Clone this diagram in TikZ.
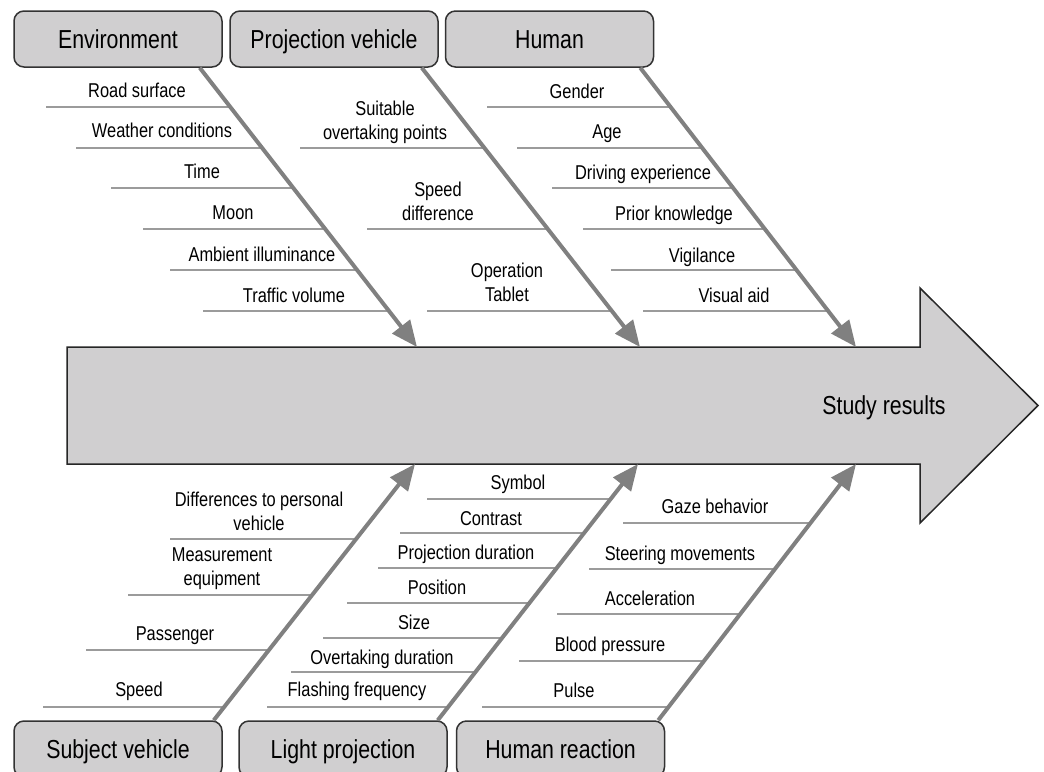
\documentclass[tikz,border=0pt]{standalone}
\usepackage{fontspec}
\setmainfont{Liberation Sans}[FakeStretch=0.82]
\usetikzlibrary{arrows.meta}
\definecolor{fishgray}{RGB}{208,207,208}
\definecolor{bonegray}{RGB}{128,128,128}
\definecolor{ribgray}{RGB}{155,155,155}

\begin{document}
\begin{tikzpicture}[x=0.5pt,y=-0.5pt,
	cause/.style={draw=black!80, line width=0.75pt, fill=fishgray, rounded corners=5pt, minimum width=104pt, minimum height=28pt, inner sep=0pt, text height=9.4pt, text depth=0pt, font=\fontsize{13}{15}\selectfont},
	rib/.style={draw=ribgray, line width=0.7pt},
	item/.style={font=\fontsize{10}{12}\selectfont, inner sep=0pt, text height=7.3pt, text depth=0pt},
	item2/.style={font=\fontsize{10}{12}\selectfont, align=center, inner sep=0pt, text depth=0pt},
	bone/.style={draw=bonegray, line width=2pt, -{Triangle[length=13pt,width=11pt]}}]
		\path[use as bounding box, clip] (0,0) rectangle (1044,771);
		
		% Result arrow
		\filldraw[fill=fishgray, draw=black!85, line width=0.75pt] (67,347) -- (920,347) -- (920,288) -- (1038,405.5) -- (920,523) -- (920,464) -- (67,464) -- cycle;
		\node[font=\fontsize{13}{15}\selectfont, text height=9.4pt, text depth=0pt, inner sep=0pt] (res) at (884,405) {Study results};
		\coordinate (envtip) at (417,347);
		\coordinate (pvtip) at (640,347);
		\coordinate (humtip) at (856,347);
		\coordinate (svtip) at (415,464);
		\coordinate (lptip) at (638,464);
		\coordinate (hrtip) at (856,464);
		
		% Cause boxes
		\node[cause] (env) at (118,39) {Environment};
		\node[cause] (pv) at (334,39) {Projection vehicle};
		\node[cause] (hum) at (549.5,39) {Human};
		\node[cause] (sv) at (118,749) {Subject vehicle};
		\node[cause] (lp) at (343,749) {Light projection};
		\node[cause] (hr) at (560.5,749) {Human reaction};
		
		% Environment
		\draw[rib] (46,107) -- (230,107);
		\node[item] (road) at (137,90) {Road surface};
		\draw[rib] (76,148) -- (262,148);
		\node[item] (weather) at (162,130) {Weather conditions};
		\draw[rib] (111,188) -- (294,188);
		\node[item] (time) at (202,171) {Time};
		\draw[rib] (143,229) -- (326,229);
		\node[item] (moon) at (233,212) {Moon};
		\draw[rib] (170,270) -- (358,270);
		\node[item] (ambient) at (262,254) {Ambient illuminance};
		\draw[rib] (203,311) -- (390,311);
		\node[item] (traffic) at (294,295) {Traffic volume};
		
		% Projection vehicle
		\draw[rib] (300,148) -- (484,148);
		\node[item2] (points) at (385,120) {Suitable\\overtaking points};
		\draw[rib] (367,229) -- (548,229);
		\node[item2] (speeddiff) at (438,201) {Speed\\difference};
		\draw[rib] (427,311) -- (612,311);
		\node[item2] (tablet) at (507,282) {Operation\\Tablet};
		
		% Human
		\draw[rib] (487,107) -- (670,107);
		\node[item] (gender) at (577,91) {Gender};
		\draw[rib] (517,148) -- (702,148);
		\node[item] (age) at (607,131) {Age};
		\draw[rib] (552,188) -- (734,188);
		\node[item] (driving) at (643,172) {Driving experience};
		\draw[rib] (583,229) -- (766,229);
		\node[item] (prior) at (674,213) {Prior knowledge};
		\draw[rib] (611,270) -- (798,270);
		\node[item] (vigil) at (702,255) {Vigilance};
		\draw[rib] (643,311) -- (830,311);
		\node[item] (visual) at (734,295) {Visual aid};
		
		% Subject vehicle
		\draw[rib] (170,539) -- (357,539);
		\node[item2] (diff) at (259,511) {Differences to personal\\vehicle};
		\draw[rib] (128,595) -- (312,595);
		\node[item2] (equip) at (222,567) {Measurement\\equipment};
		\draw[rib] (86,650) -- (269,650);
		\node[item] (passenger) at (175,633) {Passenger};
		\draw[rib] (43,707) -- (224,707);
		\node[item] (speed) at (139,689) {Speed};
		
		% Light projection
		\draw[rib] (427,499) -- (611,499);
		\node[item] (symbol) at (518,482) {Symbol};
		\draw[rib] (400,533) -- (585,533);
		\node[item] (contrast) at (491,518) {Contrast};
		\draw[rib] (378,568) -- (557,568);
		\node[item] (projdur) at (466,552) {Projection duration};
		\draw[rib] (347,603) -- (530,603);
		\node[item] (position) at (437,587) {Position};
		\draw[rib] (323,638) -- (502,638);
		\node[item] (size) at (414,622) {Size};
		\draw[rib] (291,672) -- (476,672);
		\node[item] (overdur) at (382,657) {Overtaking duration};
		\draw[rib] (267,707) -- (448,707);
		\node[item] (flash) at (357,689) {Flashing frequency};
		
		% Human reaction
		\draw[rib] (623,523) -- (811,523);
		\node[item] (gaze) at (715,506) {Gaze behavior};
		\draw[rib] (589,569) -- (775,569);
		\node[item] (steer) at (680,553) {Steering movements};
		\draw[rib] (557,614) -- (740,614);
		\node[item] (accel) at (650,598) {Acceleration};
		\draw[rib] (519,661) -- (704,661);
		\node[item] (blood) at (610,644) {Blood pressure};
		\draw[rib] (482,707) -- (668,707);
		\node[item] (pulse) at (574,690) {Pulse};
		
		% Bones into the result arrow
		\draw[bone] ([xshift=-11.5pt]env.south east) -- (envtip);
		\draw[bone] ([xshift=-8.5pt]pv.south east) -- (pvtip);
		\draw[bone] ([xshift=-7pt]hum.south east) -- (humtip);
		\draw[bone] ([xshift=-4.5pt]sv.north east) -- (svtip);
		\draw[bone] ([xshift=-5pt]lp.north east) -- (lptip);
		\draw[bone] ([xshift=-3.5pt]hr.north east) -- (hrtip);
\end{tikzpicture}
\end{document}
